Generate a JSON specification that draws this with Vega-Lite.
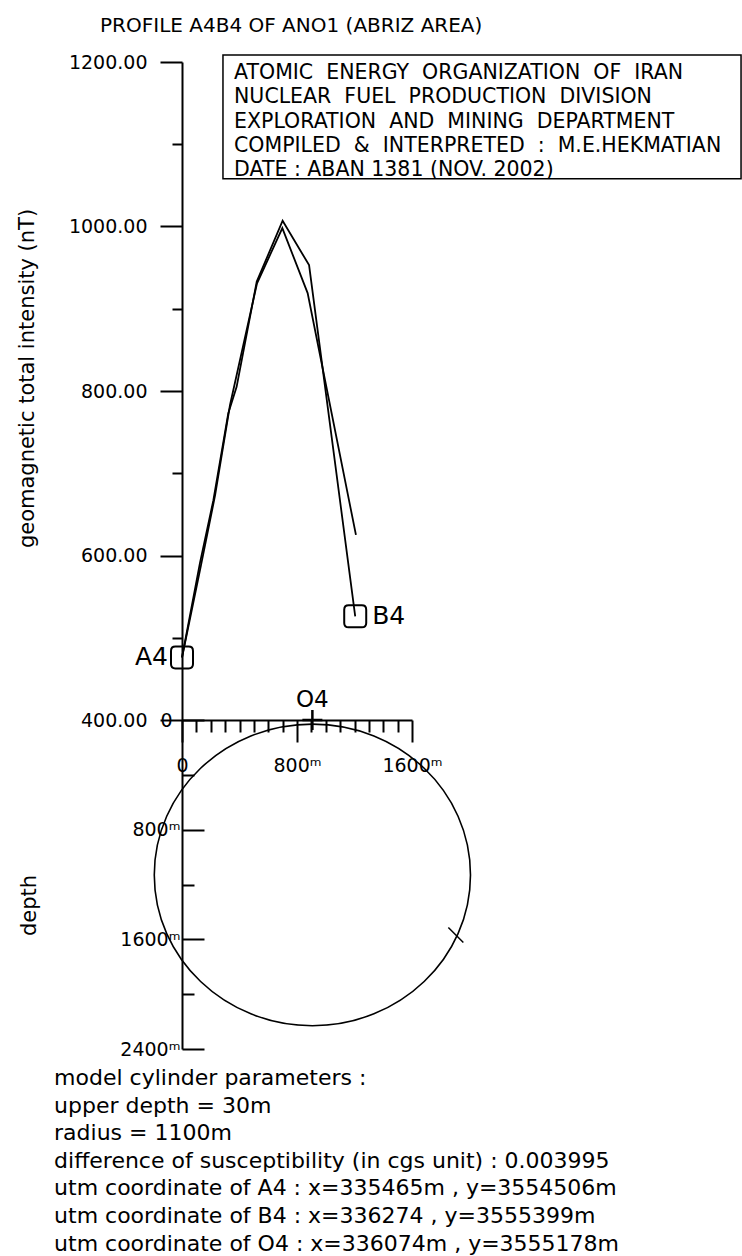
{
  "$schema": "https://vega.github.io/schema/vega-lite/v6.json",
  "autosize": {"type": "none"},
  "padding": {"left": 182, "top": 62, "right": 330, "bottom": 207},
  "width": 230,
  "height": 987,
  "background": "white",
  "config": {
    "view": {"stroke": null},
    "font": "DejaVu Sans",
    "axis": {
      "labelFont": "DejaVu Sans",
      "titleFont": "DejaVu Sans",
      "labelColor": "black",
      "titleColor": "black",
      "domainColor": "black",
      "tickColor": "black",
      "grid": false,
      "titleFontWeight": "normal"
    }
  },
  "datasets": {
    "profile": [
      {"series": "observed", "dist": 0, "nT": 476},
      {"series": "observed", "dist": 125, "nT": 591},
      {"series": "observed", "dist": 218, "nT": 667},
      {"series": "observed", "dist": 322, "nT": 773},
      {"series": "observed", "dist": 380, "nT": 805},
      {"series": "observed", "dist": 520, "nT": 933},
      {"series": "observed", "dist": 700, "nT": 1007},
      {"series": "observed", "dist": 884, "nT": 953},
      {"series": "observed", "dist": 1205, "nT": 526},
      {"series": "computed", "dist": 0, "nT": 476},
      {"series": "computed", "dist": 132, "nT": 588},
      {"series": "computed", "dist": 230, "nT": 673},
      {"series": "computed", "dist": 334, "nT": 783},
      {"series": "computed", "dist": 522, "nT": 931},
      {"series": "computed", "dist": 698, "nT": 998},
      {"series": "computed", "dist": 874, "nT": 919},
      {"series": "computed", "dist": 1210, "nT": 625}
    ],
    "stations": [
      {"station": "A4", "dist": 0, "nT": 476},
      {"station": "B4", "dist": 1205, "nT": 526}
    ],
    "heading": [{"text": "PROFILE A4B4 OF ANO1 (ABRIZ AREA)"}],
    "credits": [{"lines": [
      "ATOMIC \u00a0ENERGY \u00a0ORGANIZATION \u00a0OF \u00a0IRAN",
      "NUCLEAR \u00a0FUEL \u00a0PRODUCTION \u00a0DIVISION",
      "EXPLORATION \u00a0AND \u00a0MINING \u00a0DEPARTMENT",
      "COMPILED \u00a0& \u00a0INTERPRETED \u00a0: \u00a0M.E.HEKMATIAN",
      "DATE : ABAN 1381 (NOV. 2002)"
    ]}],
    "model": [{"name": "cylinder", "dist": 907, "depth": 1130}],
    "centre": [{"name": "O4", "dist": 907, "depth": 0}],
    "marker": [{"dist": 1905, "depth": 1568}],
    "parameters": [{"lines": [
      "model cylinder parameters :",
      "upper depth = 30m",
      "radius = 1100m",
      "difference of susceptibility (in cgs unit) : 0.003995",
      "utm coordinate of A4 : x=335465m , y=3554506m",
      "utm coordinate of B4 : x=336274 , y=3555399m",
      "utm coordinate of O4 : x=336074m , y=3555178m"
    ]}]
  },
  "layer": [
    {
      "layer": [
        {
          "data": {"name": "profile"},
          "mark": {"type": "line", "color": "black", "strokeWidth": 1.8},
          "encoding": {
            "x": {
              "field": "dist", "type": "quantitative",
              "scale": {"domain": [0, 1600], "nice": false, "zero": false},
              "axis": {
                "orient": "bottom", "offset": -329,
                "values": [0, 100, 200, 300, 400, 500, 600, 700, 800, 900, 1000, 1100, 1200, 1300, 1400, 1500, 1600],
                "tickCount": 40,
                "domain": true, "domainWidth": 2, "tickWidth": 2,
                "tickSize": {"condition": {"test": "datum.value % 800 === 0", "value": 22}, "value": 12},
                "labelExpr": "datum.value === 0 ? '0' : (datum.value % 800 === 0 ? datum.value + '\u1d50' : '')",
                "labelFontSize": 19, "labelPadding": 14, "labelFlush": false, "labelOverlap": false,
                "labelBaseline": "top",
                "title": null
              }
            },
            "y": {
              "field": "nT", "type": "quantitative",
              "scale": {"domain": [0, 1200], "nice": false, "zero": false},
              "axis": {
                "orient": "left",
                "values": [400, 500, 600, 700, 800, 900, 1000, 1100, 1200],
                "tickCount": 40,
                "domain": true, "domainWidth": 2, "tickWidth": 2,
                "tickSize": {"condition": {"test": "datum.value % 200 === 0", "value": 22}, "value": 10},
                "labelExpr": "datum.value % 200 === 0 ? format(datum.value, '.2f') : ''",
                "labelFontSize": 19, "labelPadding": 13, "labelOverlap": false,
                "title": "geomagnetic total intensity (nT)",
                "titleFontSize": 21, "titleX": -155, "titleY": 316, "titleAngle": 270,
                "titleAlign": "center", "titleBaseline": "middle"
              }
            },
            "detail": {"field": "series", "type": "nominal"}
          }
        },
        {
          "data": {"name": "stations"},
          "mark": {"type": "point", "shape": "M -0.6 -1 L 0.6 -1 Q 1 -1 1 -0.6 L 1 0.6 Q 1 1 0.6 1 L -0.6 1 Q -1 1 -1 0.6 L -1 -0.6 Q -1 -1 -0.6 -1 Z", "size": 484, "filled": false, "color": "black", "strokeWidth": 2, "opacity": 1},
          "encoding": {
            "x": {"field": "dist", "type": "quantitative", "scale": {"domain": [0, 1600], "nice": false, "zero": false}},
            "y": {"field": "nT", "type": "quantitative", "scale": {"domain": [0, 1200], "nice": false, "zero": false}}
          }
        },
        {
          "data": {"name": "stations"},
          "transform": [{"filter": "datum.station === 'A4'"}],
          "mark": {"type": "text", "align": "right", "baseline": "middle", "dx": -14, "fontSize": 25, "font": "DejaVu Sans", "color": "black"},
          "encoding": {
            "x": {"field": "dist", "type": "quantitative", "scale": {"domain": [0, 1600], "nice": false, "zero": false}},
            "y": {"field": "nT", "type": "quantitative", "scale": {"domain": [0, 1200], "nice": false, "zero": false}},
            "text": {"field": "station", "type": "nominal"}
          }
        },
        {
          "data": {"name": "stations"},
          "transform": [{"filter": "datum.station === 'B4'"}],
          "mark": {"type": "text", "align": "left", "baseline": "middle", "dx": 17, "fontSize": 25, "font": "DejaVu Sans", "color": "black"},
          "encoding": {
            "x": {"field": "dist", "type": "quantitative", "scale": {"domain": [0, 1600], "nice": false, "zero": false}},
            "y": {"field": "nT", "type": "quantitative", "scale": {"domain": [0, 1200], "nice": false, "zero": false}},
            "text": {"field": "station", "type": "nominal"}
          }
        },
        {
          "data": {"name": "heading"},
          "mark": {"type": "text", "align": "left", "baseline": "alphabetic", "fontSize": 20, "font": "DejaVu Sans", "color": "black"},
          "encoding": {
            "x": {"datum": -570, "type": "quantitative", "scale": {"domain": [0, 1600], "nice": false, "zero": false}},
            "y": {"datum": 1237, "type": "quantitative", "scale": {"domain": [0, 1200], "nice": false, "zero": false}},
            "text": {"field": "text", "type": "nominal"}
          }
        },
        {
          "data": {"name": "heading"},
          "mark": {"type": "rect", "filled": false, "color": "black", "strokeWidth": 1.5},
          "encoding": {
            "x": {"datum": 285, "type": "quantitative", "scale": {"domain": [0, 1600], "nice": false, "zero": false}},
            "x2": {"datum": 3889},
            "y": {"datum": 1208.5, "type": "quantitative", "scale": {"domain": [0, 1200], "nice": false, "zero": false}},
            "y2": {"datum": 1058}
          }
        },
        {
          "data": {"name": "credits"},
          "mark": {"type": "text", "align": "left", "baseline": "alphabetic", "fontSize": 20.5, "lineHeight": 24.2, "font": "DejaVu Sans", "color": "black"},
          "encoding": {
            "x": {"datum": 362, "type": "quantitative", "scale": {"domain": [0, 1600], "nice": false, "zero": false}},
            "y": {"datum": 1179, "type": "quantitative", "scale": {"domain": [0, 1200], "nice": false, "zero": false}},
            "text": {"field": "lines", "type": "nominal"}
          }
        }
      ]
    },
    {
      "layer": [
        {
          "data": {"name": "model"},
          "mark": {"type": "point", "shape": "M -1 0 A 1 0.9537 0 1 1 1 0 A 1 0.9537 0 1 1 -1 0 Z", "size": 99982, "filled": false, "color": "black", "strokeWidth": 1.6, "opacity": 1},
          "encoding": {
            "x": {
              "field": "dist", "type": "quantitative",
              "scale": {"domain": [0, 1600], "nice": false, "zero": false},
              "axis": {
                "orient": "bottom", "offset": -329,
                "values": [0, 100, 200, 300, 400, 500, 600, 700, 800, 900, 1000, 1100, 1200, 1300, 1400, 1500, 1600],
                "tickCount": 40,
                "domain": true, "domainWidth": 2, "tickWidth": 2,
                "tickSize": {"condition": {"test": "datum.value % 800 === 0", "value": 22}, "value": 12},
                "labelExpr": "datum.value === 0 ? '0' : (datum.value % 800 === 0 ? datum.value + '\u1d50' : '')",
                "labelFontSize": 19, "labelPadding": 14, "labelFlush": false, "labelOverlap": false,
                "labelBaseline": "top",
                "title": null
              }
            },
            "y": {
              "field": "depth", "type": "quantitative",
              "scale": {"domain": [-4800, 2400], "reverse": true, "nice": false, "zero": false},
              "axis": {
                "orient": "left",
                "values": [0, 400, 800, 1200, 1600, 2000, 2400],
                "tickCount": 40,
                "domain": false, "tickWidth": 2,
                "tickSize": {"condition": {"test": "datum.value % 800 === 0", "value": -22}, "value": -12},
                "labelExpr": "datum.value === 0 ? '0' : (datum.value % 800 === 0 ? datum.value + '\u1d50' : '')",
                "labelFontSize": 19,
                "labelPadding": {"condition": {"test": "datum.value === 0", "value": 32}, "value": 24},
                "labelOverlap": false,
                "title": "depth",
                "titleFontSize": 21, "titleX": -153, "titleY": 843, "titleAngle": 270,
                "titleAlign": "center", "titleBaseline": "middle"
              }
            }
          }
        },
        {
          "data": {"name": "centre"},
          "mark": {"type": "point", "shape": "M -1 0 L 1 0 M 0 -1 L 0 1", "size": 400, "filled": false, "color": "black", "strokeWidth": 2.5, "opacity": 1},
          "encoding": {
            "x": {"field": "dist", "type": "quantitative", "scale": {"domain": [0, 1600], "nice": false, "zero": false}},
            "y": {"field": "depth", "type": "quantitative", "scale": {"domain": [-4800, 2400], "reverse": true, "nice": false, "zero": false}}
          }
        },
        {
          "data": {"name": "centre"},
          "mark": {"type": "text", "align": "center", "baseline": "middle", "dy": -20, "fontSize": 23, "font": "DejaVu Sans", "color": "black"},
          "encoding": {
            "x": {"field": "dist", "type": "quantitative", "scale": {"domain": [0, 1600], "nice": false, "zero": false}},
            "y": {"field": "depth", "type": "quantitative", "scale": {"domain": [-4800, 2400], "reverse": true, "nice": false, "zero": false}},
            "text": {"field": "name", "type": "nominal"}
          }
        },
        {
          "data": {"name": "marker"},
          "mark": {"type": "point", "shape": "M -1 -1 L 1 1", "size": 225, "filled": false, "color": "black", "strokeWidth": 1.5, "opacity": 1},
          "encoding": {
            "x": {"field": "dist", "type": "quantitative", "scale": {"domain": [0, 1600], "nice": false, "zero": false}},
            "y": {"field": "depth", "type": "quantitative", "scale": {"domain": [-4800, 2400], "reverse": true, "nice": false, "zero": false}}
          }
        },
        {
          "data": {"name": "parameters"},
          "mark": {"type": "text", "align": "left", "baseline": "alphabetic", "fontSize": 22, "lineHeight": 27.6, "font": "DejaVu Sans", "color": "black"},
          "encoding": {
            "x": {"datum": -890, "type": "quantitative", "scale": {"domain": [0, 1600], "nice": false, "zero": false}},
            "y": {"datum": 2663, "type": "quantitative", "scale": {"domain": [-4800, 2400], "reverse": true, "nice": false, "zero": false}},
            "text": {"field": "lines", "type": "nominal"}
          }
        }
      ]
    }
  ],
  "resolve": {"scale": {"y": "independent"}, "axis": {"y": "independent"}}
}
